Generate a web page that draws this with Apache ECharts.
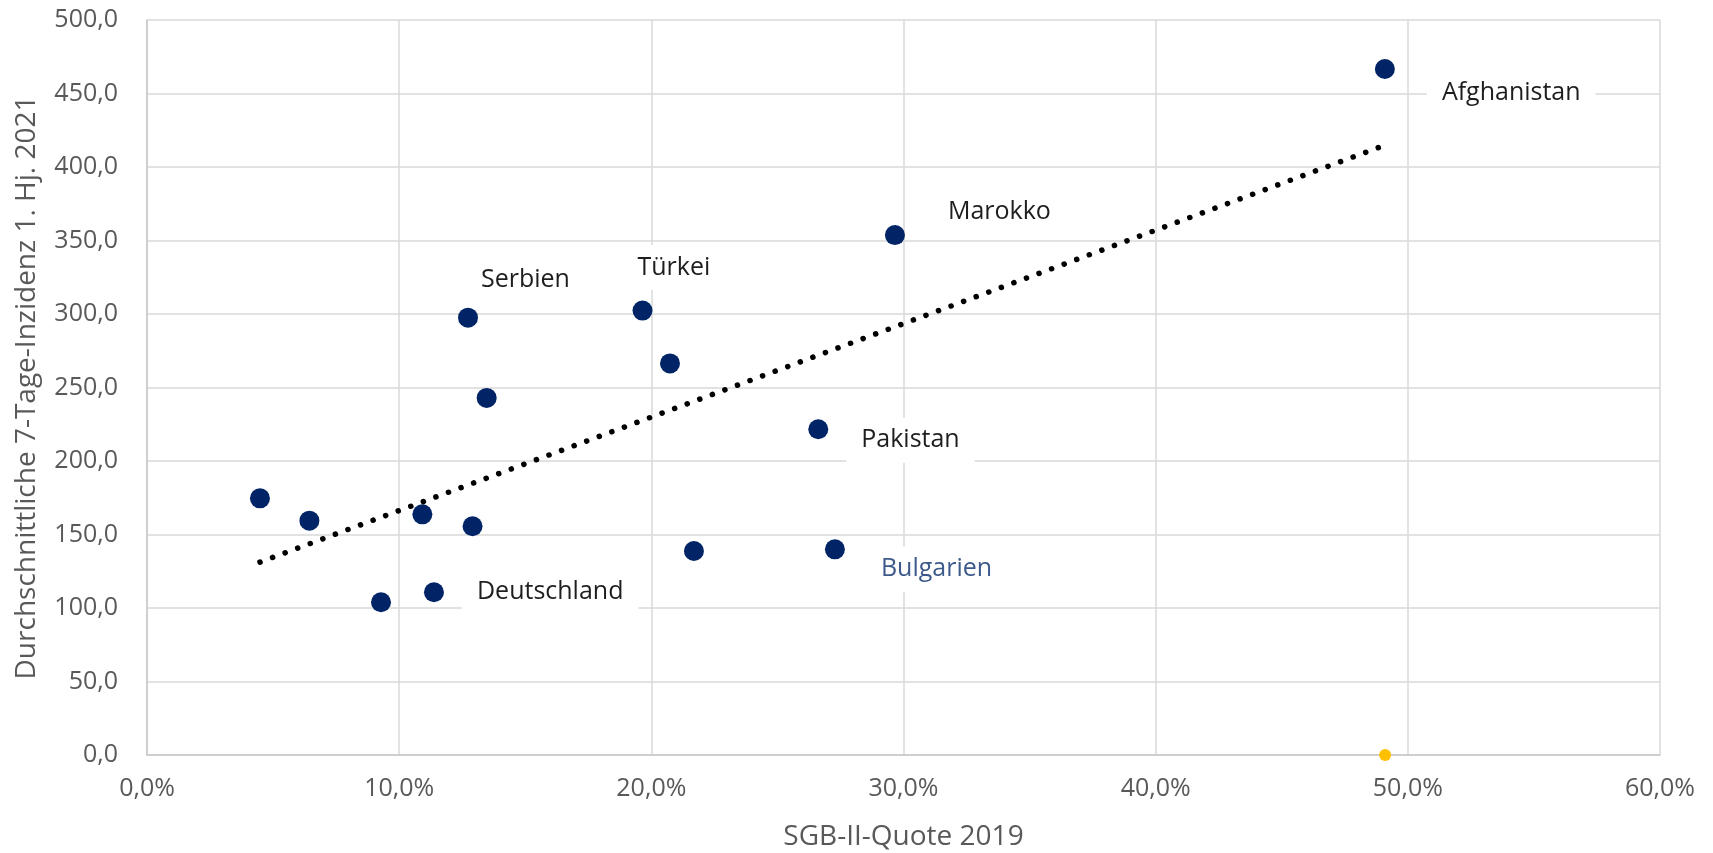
<!DOCTYPE html>
<html>
<head>
<meta charset="utf-8">
<title>SGB-II-Quote und 7-Tage-Inzidenz</title>
<script src="https://cdn.jsdelivr.net/npm/echarts@6/dist/echarts.min.js"></script>
<style>
html, body { margin: 0; padding: 0; background: #fff; }
#chart { width: 1713px; height: 853px; }
</style>
</head>
<body>
<div id="chart"></div>
<script>
// SGB-II-Quote 2019 (in %) und durchschnittliche 7-Tage-Inzidenz 1. Hj. 2021
var quote    = [4.48, 6.44, 9.28, 10.92, 11.38, 12.73, 13.47, 12.91, 19.65, 20.74, 21.69, 26.62, 27.28, 29.66, 49.09];
var inzidenz = [174.6, 159.4, 103.9, 163.7, 110.7, 297.5, 242.9, 155.6, 302.3, 266.4, 138.8, 221.6, 139.9, 353.7, 466.7];
var land     = ['', '', '', '', 'Deutschland', 'Serbien', '', '', 'Türkei', '', '', 'Pakistan', 'Bulgarien', 'Marokko', 'Afghanistan'];
// zweite Reihe (gelber Punkt auf der x-Achse)
var quote2    = [49.1];
var inzidenz2 = [0];

// Lage der Beschriftungen relativ zum Punkt (Textanfang, Textmitte)
var labelPos = {
	'Afghanistan': [57, 24],
	'Marokko': [53, -23],
	'Türkei': [-5, -43],
	'Serbien': [13, -38],
	'Pakistan': [43, 11],
	'Bulgarien': [46, 20],
	'Deutschland': [43, 0]
};
var fontFam = "'Open Sans', sans-serif";
var padX = 15;

function fmt(v) { return v.toFixed(1).replace('.', ','); }

var points = [];
for (var i = 0; i < quote.length; i++) {
	var item = { value: [quote[i], inzidenz[i]], name: land[i] };
	if (land[i]) {
		var p = labelPos[land[i]];
		item.label = {
			show: true,
			formatter: '{b}',
			position: 'inside',
			align: 'left',
			verticalAlign: 'middle',
			offset: [p[0] - padX, p[1]],
			color: land[i] == 'Bulgarien' ? '#3d5a8a' : '#1e1e1e',
			opacity: 1,
			fontSize: 25,
			fontFamily: fontFam,
			backgroundColor: '#fff',
			padding: [10, padX]
		};
	}
	points.push(item);
}

// lineare Trendlinie (kleinste Quadrate)
var n = quote.length, sx = 0, sy = 0, sxx = 0, sxy = 0;
for (var i = 0; i < n; i++) {
	sx += quote[i]; sy += inzidenz[i];
	sxx += quote[i] * quote[i]; sxy += quote[i] * inzidenz[i];
}
var slope = (n * sxy - sx * sy) / (n * sxx - sx * sx);
var icpt = (sy - slope * sx) / n;
var xMin = Math.min.apply(null, quote), xMax = Math.max.apply(null, quote);
var trend = [[xMin, icpt + slope * xMin], [xMax, icpt + slope * xMax]];

var second = [];
for (var i = 0; i < quote2.length; i++) second.push([quote2[i], inzidenz2[i]]);

var chart = echarts.init(document.getElementById('chart'));
chart.setOption({
	animation: false,
	grid: { left: 147, right: 53, top: 20, bottom: 98, outerBoundsMode: 'none' },
	xAxis: {
		type: 'value', min: 0, max: 60, interval: 10,
		name: 'SGB-II-Quote 2019', nameLocation: 'middle', nameGap: 68,
		nameTextStyle: { color: '#595959', fontSize: 28, fontFamily: fontFam },
		axisLine: { show: true, lineStyle: { color: '#c8c8c8', width: 1.5 } },
		axisTick: { show: false },
		axisLabel: { color: '#595959', fontSize: 25, fontFamily: fontFam, margin: 21,
			formatter: function(v) { return fmt(v) + '%'; } },
		splitLine: { show: true, lineStyle: { color: '#d9d9d9', width: 1.5 } }
	},
	yAxis: {
		type: 'value', min: 0, max: 500, interval: 50,
		name: 'Durchschnittliche 7-Tage-Inzidenz 1. Hj. 2021', nameLocation: 'middle', nameGap: 106,
		nameTextStyle: { color: '#595959', fontSize: 28, fontFamily: fontFam },
		axisLine: { show: true, lineStyle: { color: '#c8c8c8', width: 1.5 } },
		axisTick: { show: false },
		axisLabel: { color: '#595959', fontSize: 25, fontFamily: fontFam, margin: 29,
			formatter: function(v) { return fmt(v); } },
		splitLine: { show: true, lineStyle: { color: '#d9d9d9', width: 1.5 } }
	},
	series: [{
		type: 'scatter',
		data: points,
		symbolSize: 20,
		itemStyle: { color: '#002466', opacity: 1 },
		z: 3
	}, {
		type: 'scatter',
		data: second,
		symbolSize: 12,
		itemStyle: { color: '#ffc000', opacity: 1 },
		clip: false,
		z: 3
	}, {
		type: 'line',
		data: trend,
		symbol: 'none',
		lineStyle: { color: '#000', width: 5.5, type: [0.1, 13.3], cap: 'round' },
		z: 4
	}]
});
</script>
</body>
</html>
